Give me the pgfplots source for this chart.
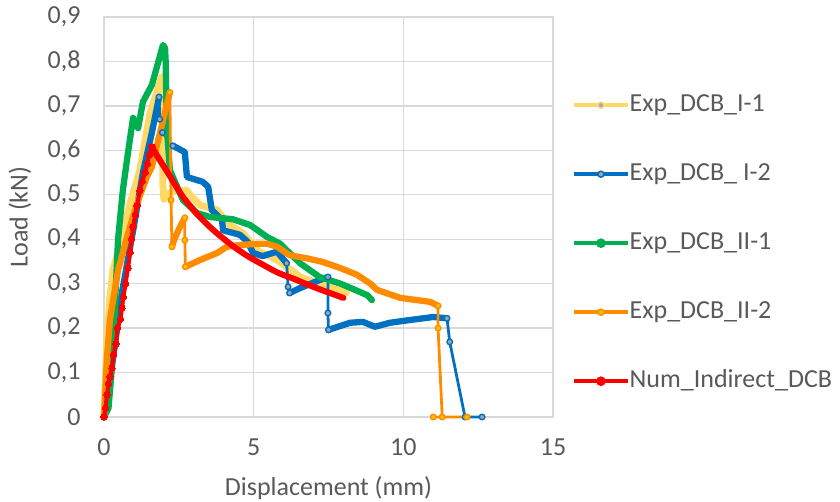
\documentclass[border=0pt]{standalone}
\usepackage{pgfplots}
\pgfplotsset{compat=1.18}
\usepackage{fontspec}
\setmainfont{Carlito}
\definecolor{gridgrey}{HTML}{D9D9D9}
\definecolor{textgrey}{HTML}{595959}
\definecolor{cyellow}{HTML}{FFD966}
\definecolor{cblue}{HTML}{0070C0}
\definecolor{cgreen}{HTML}{00B050}
\definecolor{corange}{HTML}{FF8C00}
\definecolor{cred}{HTML}{FF0000}
\definecolor{mblue}{HTML}{8FAADC}
\definecolor{mgrey}{HTML}{A5A5A5}
\definecolor{mgold}{HTML}{FFC000}
\tikzset{
  segline/.style={draw=#1, line width=6.3pt, line join=round, line cap=round},
  jumpline/.style n args={2}{draw=#1, line width=2.8pt, line join=round, line cap=round, mark=*, mark size=2.8pt, mark options={solid, fill=#2, draw=#1, line width=1.4pt}},
}
\begin{document}
\begin{tikzpicture}
\path[use as bounding box] (-104pt,-85pt) rectangle (736pt,417pt);
\begin{axis}[
  at={(0,0)}, anchor=south west,
  scale only axis, width=449pt, height=400pt,
  xmin=0, xmax=15, ymin=0, ymax=0.9,
  xtick={0,5,10,15},
  ytick={0,0.1,0.2,0.3,0.4,0.5,0.6,0.7,0.8,0.9},
  grid=major,
  major grid style={gridgrey, line width=1.3pt},
  axis line style={gridgrey, line width=1.3pt},
  tick style={draw=none},
  clip=false,
  /pgf/number format/assume math mode=true,
  yticklabel style={/pgf/number format/use comma, /pgf/number format/fixed, /pgf/number format/precision=1, xshift=-20pt},
  ticklabel style={font=\fontsize{26}{31}\selectfont, text=textgrey},
  xticklabel style={yshift=-18pt},
  label style={font=\fontsize{26}{31}\selectfont, text=textgrey},
  xlabel={Displacement (mm)},
  ylabel={Load (kN)},
  xlabel style={at={(axis description cs:0.5,-0.1775)}, anchor=center},
  ylabel style={at={(axis description cs:-0.187,0.5)}, anchor=center},
  legend style={at={(axis description cs:1.0423,0.81)}, anchor=north west, draw=none, fill=none, inner sep=0pt,
    row sep=45pt, font=\fontsize{26}{31}\selectfont, text=textgrey,
    nodes={inner sep=0pt, text height=18pt, text depth=6pt}},
  legend cell align=left,
  legend image code/.code={\draw[mark repeat=2,mark phase=2] plot coordinates {(0pt,0pt) (27pt,0pt) (54pt,0pt)};},
]
% ---------------- Exp_DCB_I-1 (yellow)
\addplot[forget plot, no markers, segline=cyellow, line width=7pt] coordinates {
(0,0) (0.1,0.17) (0.2,0.27) (0.3,0.33) (0.53,0.385) (0.87,0.48) (1.2,0.556) (1.54,0.684) (1.93,0.765)
(1.97,0.52) (2.0,0.49) (2.1,0.5) (2.4,0.51) (2.77,0.51) (2.87,0.5) (3.2,0.477) (3.78,0.466) (4.1,0.436)
(4.64,0.414) (5.2,0.37) (5.45,0.365) (5.88,0.349) (6.55,0.315) (7.3,0.297) (8.1,0.279)};
% ---------------- Exp_DCB_ I-2 (blue)
\addplot[forget plot, no markers, segline=cblue] coordinates {
(0,0) (0.3,0.13) (0.6,0.28) (1.0,0.43) (1.3,0.55) (1.6,0.64) (1.84,0.72)};
\addplot[forget plot, jumpline={cblue}{mgrey}] coordinates {(1.84,0.72) (1.86,0.67) (1.95,0.64) (2.3,0.61)};
\addplot[forget plot, no markers, segline=cblue] coordinates {
(2.3,0.61) (2.37,0.608) (2.7,0.596) (2.77,0.54) (3.3,0.529) (3.48,0.518) (3.6,0.466) (3.94,0.443) (3.98,0.42)
(4.54,0.41) (4.8,0.394) (4.98,0.369) (5.3,0.362) (5.78,0.372) (6.1,0.346)};
\addplot[forget plot, jumpline={cblue}{mgrey}] coordinates {(6.1,0.346) (6.15,0.293) (6.2,0.279)};
\addplot[forget plot, no markers, segline=cblue] coordinates {(6.2,0.279) (6.55,0.29) (7.2,0.308) (7.48,0.315)};
\addplot[forget plot, jumpline={cblue}{mgrey}] coordinates {(7.48,0.315) (7.48,0.234) (7.5,0.196)};
\addplot[forget plot, no markers, segline=cblue] coordinates {
(7.5,0.196) (8.22,0.212) (8.65,0.214) (9.05,0.203) (9.55,0.212) (10.2,0.218) (11.0,0.225) (11.46,0.222)};
\addplot[forget plot, jumpline={cblue}{mgrey}] coordinates {(11.46,0.222) (11.55,0.169) (12.06,0) (12.63,0)};
% ---------------- Exp_DCB_II-1 (green)
\addplot[forget plot, no markers, segline=cgreen] coordinates {
(0,0) (0.15,0.02) (0.25,0.1) (0.33,0.2) (0.4,0.3) (0.47,0.4) (0.63,0.51) (0.75,0.57) (0.97,0.673) (1.14,0.65)
(1.3,0.709) (1.6,0.747) (1.97,0.837) (2.04,0.83) (2.06,0.80) (2.1,0.65) (2.2,0.556) (2.3,0.54) (2.64,0.488)
(3.1,0.459) (3.54,0.45) (4.3,0.445) (4.88,0.432) (5.45,0.405) (5.88,0.39) (6.55,0.346) (7.2,0.315) (7.9,0.30)
(8.8,0.274) (8.95,0.263)};
% ---------------- Exp_DCB_II-2 (orange)
\addplot[forget plot, no markers, segline=corange] coordinates {
(0,0) (0.1,0.135) (0.2,0.22) (0.47,0.33) (0.77,0.405) (1.1,0.48) (1.43,0.54) (1.6,0.563) (1.8,0.62) (2.2,0.73)};
\addplot[forget plot, jumpline={corange}{mgold}] coordinates {(2.2,0.73) (2.24,0.488) (2.27,0.383)};
\addplot[forget plot, no markers, segline=corange] coordinates {(2.27,0.383) (2.35,0.4) (2.54,0.428) (2.7,0.448)};
\addplot[forget plot, jumpline={corange}{mgold}] coordinates {(2.7,0.448) (2.7,0.398) (2.72,0.338)};
\addplot[forget plot, no markers, segline=corange] coordinates {
(2.72,0.338) (3.2,0.353) (3.78,0.369) (4.1,0.383) (4.54,0.387) (5.2,0.39) (5.45,0.39) (5.78,0.383) (6.2,0.364)
(6.78,0.357) (7.3,0.349) (7.9,0.335) (8.45,0.32) (8.9,0.30) (9.12,0.286) (9.9,0.268) (10.9,0.259) (11.16,0.25)};
\addplot[forget plot, jumpline={corange}{mgold}] coordinates {(11.16,0.25) (11.16,0.2) (11.3,0) (11.0,0) (12.13,0)};
% ---------------- Num_Indirect_DCB (red)
\addplot[forget plot, draw=cred, line width=4pt, mark=*, mark size=3.2pt, mark options={solid, fill=cred, draw=cred, line width=0pt}] coordinates {
(0,0) (0.05,0.02) (0.1,0.05) (0.15,0.075) (0.2,0.09) (0.27,0.11) (0.32,0.14) (0.4,0.165) (0.45,0.2) (0.55,0.22)
(0.6,0.245) (0.65,0.27) (0.72,0.3) (0.8,0.335) (0.87,0.37) (0.92,0.4) (0.97,0.428) (1.05,0.455) (1.1,0.475)
(1.2,0.51) (1.28,0.53) (1.37,0.55) (1.45,0.57) (1.52,0.59) (1.6,0.608)};
\addplot[forget plot, draw=cred, line width=6pt, line cap=round, smooth, no markers] coordinates {
(1.6,0.608) (1.8,0.585) (2.1,0.553) (2.4,0.52) (2.64,0.495) (3.0,0.465) (3.2,0.45) (3.5,0.43) (3.8,0.412)
(4.3,0.385) (4.8,0.362) (5.3,0.343) (5.8,0.325) (6.3,0.312) (6.8,0.298) (7.3,0.285) (8.0,0.268)};
% ---------------- legend
\addlegendimage{draw=cyellow, line width=3.5pt, mark=*, mark size=3pt, mark options={solid, fill=mblue, draw=cyellow, line width=1.5pt}}
\addlegendentry{Exp\_DCB\_I-1}
\addlegendimage{draw=cblue, line width=3.5pt, mark=*, mark size=3pt, mark options={solid, fill=mgrey, draw=cblue, line width=1.5pt}}
\addlegendentry{Exp\_DCB\_ I-2}
\addlegendimage{draw=cgreen, line width=3.5pt, mark=*, mark size=3pt, mark options={solid, fill=cgreen, draw=cgreen}}
\addlegendentry{Exp\_DCB\_II-1}
\addlegendimage{draw=corange, line width=3.5pt, mark=*, mark size=3pt, mark options={solid, fill=mgold, draw=corange, line width=1.5pt}}
\addlegendentry{Exp\_DCB\_II-2}
\addlegendimage{draw=cred, line width=3.5pt, mark=*, mark size=3pt, mark options={solid, fill=cred, draw=cred}}
\addlegendentry{Num\_Indirect\_DCB}
\end{axis}
\end{tikzpicture}
\end{document}
